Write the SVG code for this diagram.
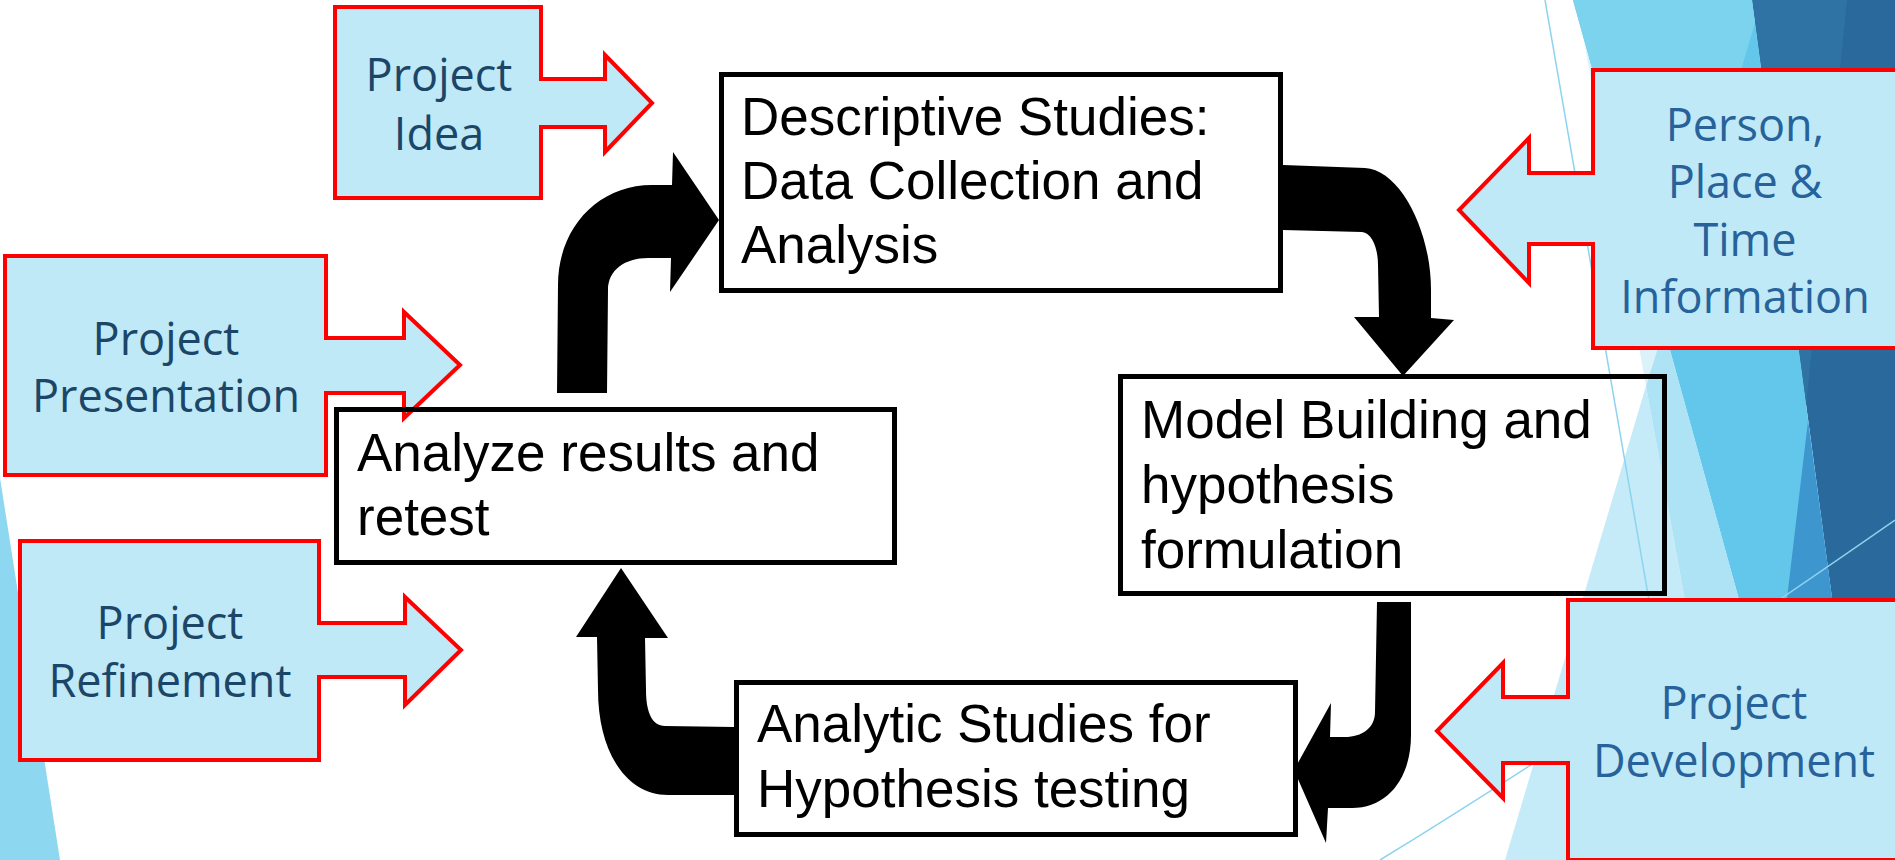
<svg xmlns="http://www.w3.org/2000/svg" width="1895" height="860" viewBox="0 0 1895 860">
  <style>
    .callout { fill: #bfe9f7; stroke: #ff0000; stroke-width: 4; stroke-linejoin: miter; }
    .box { fill: none; stroke: #000; stroke-width: 5; }
    .flow { fill: #000; }
    .ct { font-family: "Open Sans", "Noto Sans", sans-serif; font-size: 45px; text-anchor: middle; }
    .ct-l { fill: #1b4668; }
    .ct-r { fill: #27629a; }
    .bt { font-family: "Liberation Sans", Arial, sans-serif; font-size: 53px; fill: #000; }
    .hair { fill: none; stroke: #8cd4ef; stroke-width: 1.5; }
  </style>

  <!-- slide background and facet decoration -->
  <rect width="1895" height="860" fill="#ffffff"/>
  <g id="backdrop">
    <polygon points="0,478 60,860 0,860" fill="#8dd7f0"/>
    <polygon points="1752,0 1895,0 1895,860 1867,860" fill="#29699b"/>
    <polygon points="1752,0 1847,0 1806,406" fill="#2e73a3"/>
    <polygon points="1573,0 1752,0 1867,860 1811,860" fill="#63c7eb"/>
    <polygon points="1573,0 1752,0 1755,23 1664,328" fill="#7cd3ee"/>
    <polygon points="1808,421 1846,700 1775,700" fill="#3d96cd"/>
    <polygon points="1584,41 1664,328 1646,386" fill="#dcf2fa"/>
    <polygon points="1646,386 1505,860 1732,860" fill="#c5ebf8"/>
    <polygon points="1664,328 1646,386 1732,860 1811,860" fill="#aee3f5"/>
    <line class="hair" x1="1545" y1="0" x2="1694" y2="860"/>
    <path class="hair" d="M1380,860 Q1600,725 1895,520"/>
  </g>

  <!-- input callouts -->
  <g id="project-idea">
    <path class="callout" d="M335,7 H541 V79 H605 V55 L652,103 L605,152 V127 H541 V198 H335 Z"/>
    <text class="ct ct-l" x="439" y="91">Project</text>
    <text class="ct ct-l" x="439" y="150">Idea</text>
  </g>
  <g id="project-presentation">
    <path class="callout" d="M5,256 H326 V338 H404 V312 L460,365 L404,418 V393 H326 V475 H5 Z"/>
    <text class="ct ct-l" x="166" y="355">Project</text>
    <text class="ct ct-l" x="166" y="412">Presentation</text>
  </g>
  <g id="project-refinement">
    <path class="callout" d="M20,541 H319 V623 H405 V597 L461,650 L405,705 V677 H319 V760 H20 Z"/>
    <text class="ct ct-l" x="170" y="639">Project</text>
    <text class="ct ct-l" x="170" y="697">Refinement</text>
  </g>
  <g id="ppt-information">
    <path class="callout" d="M1593,70 H1905 V348 H1593 V244 H1529 V283 L1459,210 L1529,138 V173 H1593 Z"/>
    <text class="ct ct-r" x="1745" y="141">Person,</text>
    <text class="ct ct-r" x="1745" y="198">Place &amp;</text>
    <text class="ct ct-r" x="1745" y="256">Time</text>
    <text class="ct ct-r" x="1745" y="313">Information</text>
  </g>
  <g id="project-development">
    <path class="callout" d="M1568,600 H1905 V860 H1568 V763 H1503 V798 L1437,731 L1503,663 V697 H1568 Z"/>
    <text class="ct ct-r" x="1734" y="719">Project</text>
    <text class="ct ct-r" x="1734" y="777">Development</text>
  </g>

  <!-- cycle steps -->
  <g id="descriptive-studies">
    <rect class="box" x="721.5" y="74.5" width="559" height="216"/>
    <text class="bt" x="741" y="135">Descriptive Studies:</text>
    <text class="bt" x="741" y="199">Data Collection and</text>
    <text class="bt" x="741" y="263">Analysis</text>
  </g>
  <g id="model-building">
    <rect class="box" x="1120.5" y="376.5" width="544" height="217"/>
    <text class="bt" x="1141" y="438">Model Building and</text>
    <text class="bt" x="1141" y="503">hypothesis</text>
    <text class="bt" x="1141" y="568">formulation</text>
  </g>
  <g id="analytic-studies">
    <rect class="box" x="736.5" y="682.5" width="559" height="152"/>
    <text class="bt" x="757" y="742">Analytic Studies for</text>
    <text class="bt" x="757" y="807">Hypothesis testing</text>
  </g>
  <g id="analyze-results">
    <rect class="box" x="336.5" y="409.5" width="558" height="153"/>
    <text class="bt" x="357" y="471">Analyze results and</text>
    <text class="bt" x="357" y="535">retest</text>
  </g>

  <!-- bent arrows joining the steps -->
  <g id="connectors">
    <path class="flow" d="M557,393 L558,285 C558,228 598,185 652,185 L672,185 L673,152 L719,220 L670,292 L671,258 L648,258 C625,258 608,270 608,290 L607,393 Z"/>
    <path class="flow" d="M1283,165 L1365,168 C1400,170 1431,230 1431,290 L1431,318 L1454,320 L1403,376 L1354,317 L1379,317 L1378,265 C1378,248 1372,233 1362,232 L1283,230 Z"/>
    <path class="flow" d="M1377,602 L1411,602 L1411,735 C1411,778 1388,808 1352,808 L1328,808 L1326,843 L1294,770 L1331,703 L1330,737 L1345,737 C1362,737 1375,728 1375,712 Z"/>
    <path class="flow" d="M734,727 L665,726 C652,726 646,712 646,690 L645,638 L668,638 L621,568 L576,637 L597,637 L598,690 C598,750 625,795 668,795 L734,795 Z"/>
  </g>
</svg>
